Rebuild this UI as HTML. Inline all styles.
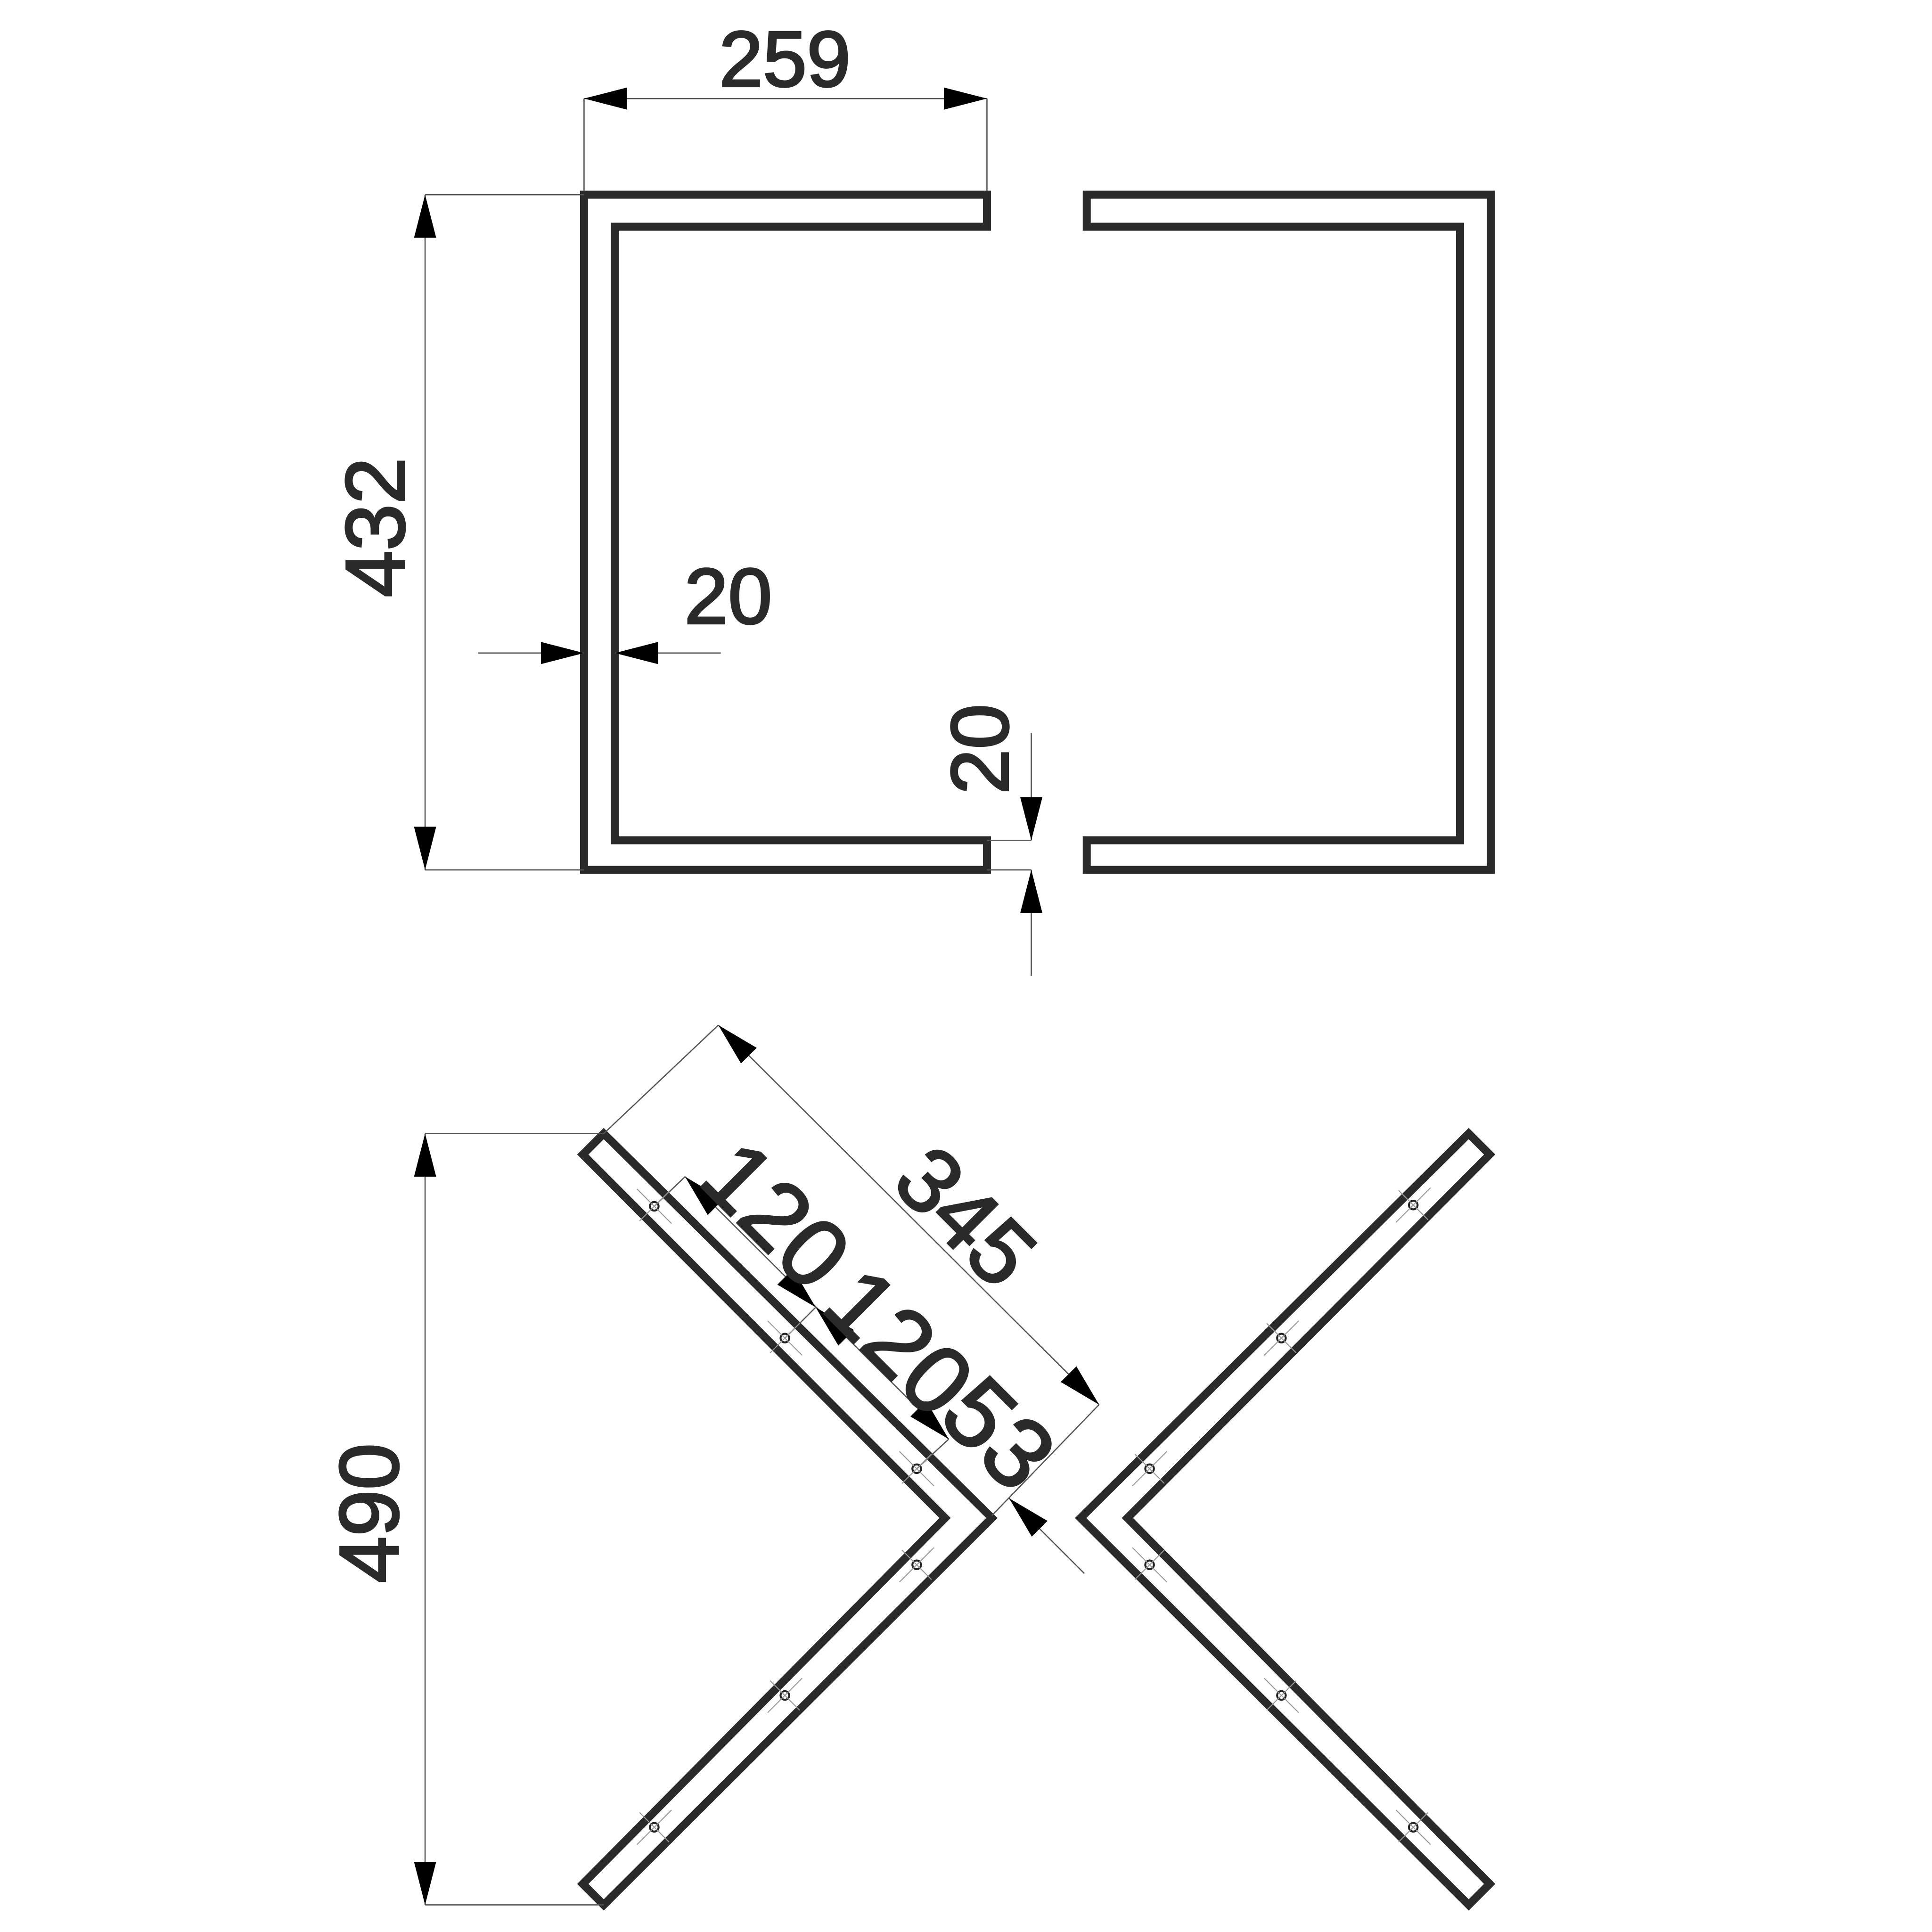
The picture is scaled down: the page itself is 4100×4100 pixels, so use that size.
<!DOCTYPE html>
<html><head><meta charset="utf-8"><style>html,body{margin:0;padding:0;background:#fff}svg{display:block}</style></head>
<body>
<svg xmlns="http://www.w3.org/2000/svg" width="4100" height="4100" viewBox="0 0 1568 1568">
<defs>
<path id="ar" d="M0,0 L-35,-9 L-35,9 Z" fill="#000"/>
<g id="hole"><circle r="3.5" fill="none" stroke="#222" stroke-width="1.6"/><line x1="-14" y1="-14" x2="14" y2="14" stroke="#999" stroke-width="0.8"/><line x1="-12" y1="12" x2="12" y2="-12" stroke="#999" stroke-width="0.8"/></g>
<g id="hole2"><circle r="3.5" fill="none" stroke="#222" stroke-width="1.6"/><line x1="-14" y1="14" x2="14" y2="-14" stroke="#999" stroke-width="0.8"/><line x1="-12" y1="-12" x2="12" y2="12" stroke="#999" stroke-width="0.8"/></g>
</defs>
<rect width="1568" height="1568" fill="#fff"/>
<g fill="none" stroke="#2a2a2a" stroke-width="6.5" stroke-linejoin="miter">
<path d="M801,158 L474,158 L474,706 L801,706 L801,682 L499,682 L499,184 L801,184 Z"/>
<path d="M882,158 L1210,158 L1210,706 L882,706 L882,682 L1185,682 L1185,184 L882,184 Z"/>
<path d="M490,920 L805,1232 L490,1546 L473,1529 L767,1232 L473,937 Z"/>
<path d="M1192,920 L877,1232 L1192,1546 L1209,1529 L915,1232 L1209,937 Z"/>
</g>
<g stroke="#555" stroke-width="1" fill="none">
<line x1="474" y1="80" x2="801" y2="80"/>
<line x1="474" y1="80" x2="474" y2="155"/>
<line x1="801" y1="80" x2="801" y2="155"/>
<line x1="345" y1="158" x2="345" y2="706"/>
<line x1="345" y1="158" x2="474" y2="158"/>
<line x1="345" y1="706" x2="474" y2="706"/>
<line x1="388" y1="530" x2="474" y2="530"/>
<line x1="499" y1="530" x2="585" y2="530"/>
<line x1="837" y1="595" x2="837" y2="682"/>
<line x1="837" y1="706" x2="837" y2="792"/>
<line x1="801" y1="682" x2="837" y2="682"/>
<line x1="801" y1="706" x2="837" y2="706"/>
<line x1="345" y1="920" x2="345" y2="1546"/>
<line x1="345" y1="920" x2="490" y2="920"/>
<line x1="345" y1="1546" x2="490" y2="1546"/>
<line x1="583" y1="832" x2="892" y2="1140"/>
<line x1="490" y1="920" x2="583" y2="832"/>
<line x1="805" y1="1230" x2="892" y2="1140"/>
<line x1="556" y1="955" x2="770" y2="1168"/>
<line x1="531" y1="979" x2="556" y2="955"/>
<line x1="637" y1="1086" x2="662" y2="1061"/>
<line x1="744" y1="1192" x2="770" y2="1168"/>
<line x1="819" y1="1216" x2="880" y2="1277"/>
</g>
<use href="#ar" transform="translate(474,80) rotate(180)"/>
<use href="#ar" transform="translate(801,80)"/>
<use href="#ar" transform="translate(345,158) rotate(-90)"/>
<use href="#ar" transform="translate(345,706) rotate(90)"/>
<use href="#ar" transform="translate(474,530)"/>
<use href="#ar" transform="translate(499,530) rotate(180)"/>
<use href="#ar" transform="translate(837,682) rotate(90)"/>
<use href="#ar" transform="translate(837,706) rotate(-90)"/>
<use href="#ar" transform="translate(345,920) rotate(-90)"/>
<use href="#ar" transform="translate(345,1546) rotate(90)"/>
<use href="#ar" transform="translate(583,832) rotate(-135)"/>
<use href="#ar" transform="translate(892,1140) rotate(45)"/>
<use href="#ar" transform="translate(556,955) rotate(-135)"/>
<use href="#ar" transform="translate(662,1061) rotate(45)"/>
<use href="#ar" transform="translate(662,1061) rotate(-135)"/>
<use href="#ar" transform="translate(770,1168) rotate(45)"/>
<use href="#ar" transform="translate(819,1216) rotate(-135)"/>
<use href="#hole" x="531" y="979"/>
<use href="#hole" x="637" y="1086"/>
<use href="#hole" x="744" y="1192"/>
<use href="#hole2" x="744" y="1270"/>
<use href="#hole2" x="637" y="1376"/>
<use href="#hole2" x="531" y="1483"/>
<use href="#hole2" x="1147" y="978"/>
<use href="#hole2" x="1040" y="1086"/>
<use href="#hole2" x="933" y="1192"/>
<use href="#hole" x="933" y="1270"/>
<use href="#hole" x="1040" y="1376"/>
<use href="#hole" x="1147" y="1483"/>
<g font-family="Liberation Sans, DejaVu Sans, sans-serif" fill="#2a2a2a" stroke="#2a2a2a" stroke-width="1.6" text-anchor="middle">
<text x="637" y="70" font-size="64">259</text>
<text transform="translate(328,428) rotate(-90)" font-size="68">432</text>
<text x="591" y="506" font-size="64">20</text>
<text transform="translate(818,608) rotate(-90)" font-size="66">20</text>
<text transform="translate(323,1228) rotate(-90)" font-size="68">490</text>
<text transform="translate(784,987) rotate(45)" font-size="74" dy="26">345</text>
<text transform="translate(630,986) rotate(45)" font-size="78" dy="27">120</text>
<text transform="translate(730,1089) rotate(45)" font-size="78" dy="27">120</text>
<text transform="translate(811,1163) rotate(45)" font-size="80" dy="28">53</text>
</g>
</svg>
</body></html>
